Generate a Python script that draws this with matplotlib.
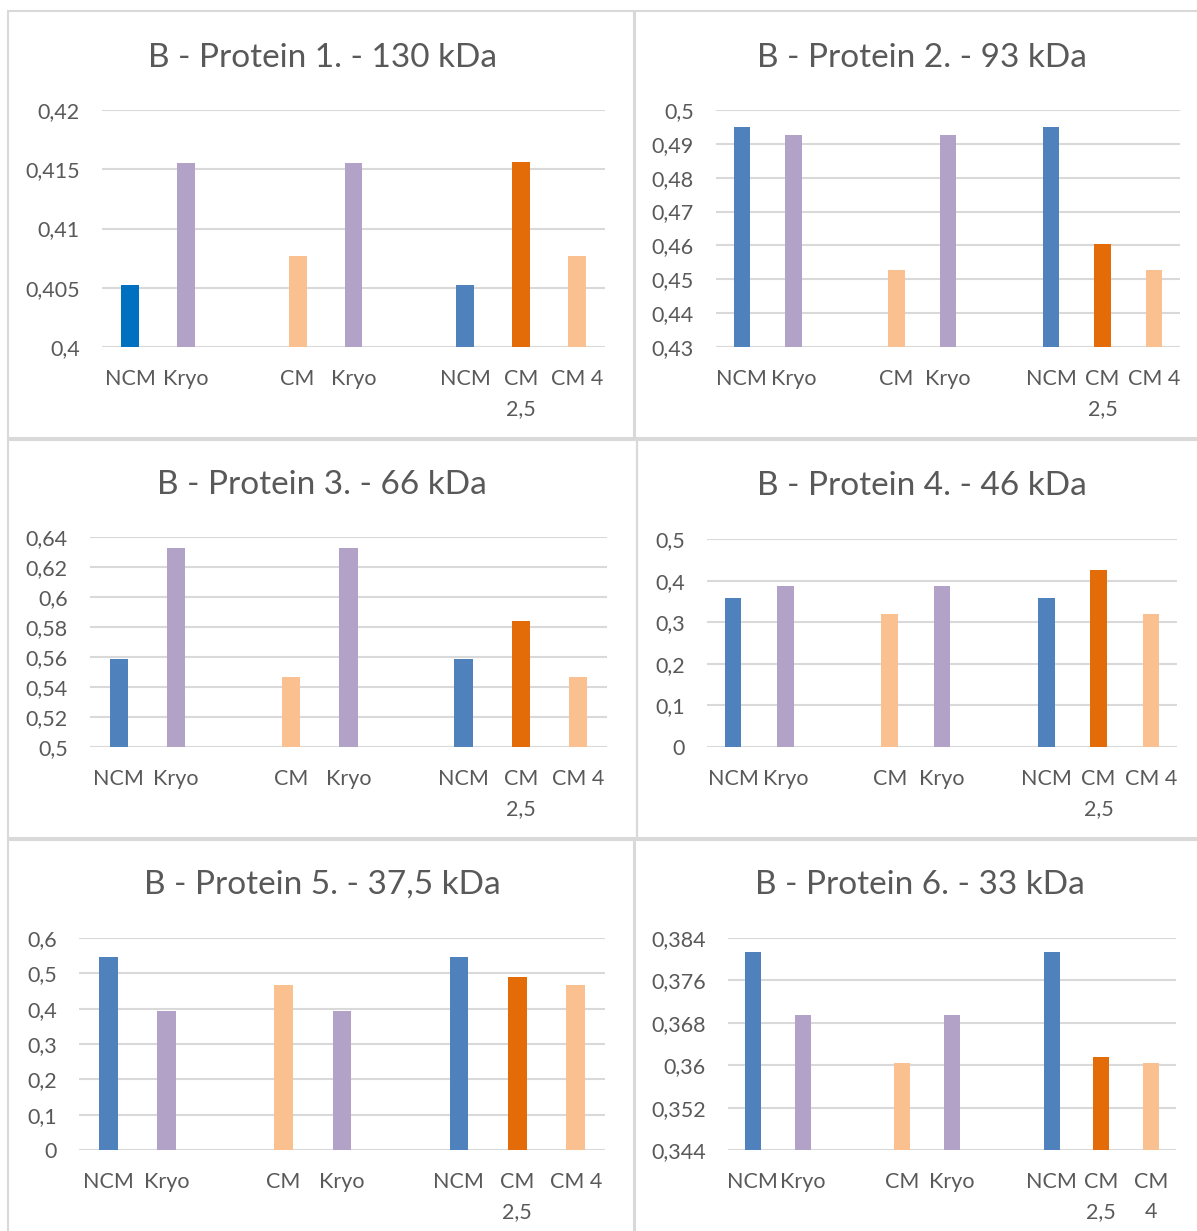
import matplotlib
matplotlib.use("Agg")
import matplotlib.pyplot as plt
import numpy as np
from matplotlib.patches import Rectangle
from matplotlib.ticker import FuncFormatter

W, H, DPI = 1197, 1231, 100
FONT = "Lato"
TXT = "#595959"
GRID = "#D9D9D9"

nan = np.nan
categories = ["NCM", "Kryo", "", "CM", "Kryo", "", "NCM", "CM\n2,5", "CM 4"]
categories_p6 = ["NCM", "Kryo", "", "CM", "Kryo", "", "NCM", "CM\n2,5", "CM\n4"]

titles = ["B - Protein 1. - 130 kDa", "B - Protein 2. - 93 kDa",
          "B - Protein 3. - 66 kDa", "B - Protein 4. - 46 kDa",
          "B - Protein 5. - 37,5 kDa", "B - Protein 6. - 33 kDa"]

protein1 = [0.4052, 0.4155, nan, 0.4077, 0.4155, nan, 0.4052, 0.4156, 0.4077]
protein2 = [0.4951, 0.4925, nan, 0.4527, 0.4925, nan, 0.4951, 0.4604, 0.4527]
protein3 = [0.5587, 0.6324, nan, 0.5469, 0.6324, nan, 0.5587, 0.5843, 0.5469]
protein4 = [0.359, 0.387, nan, 0.320, 0.387, nan, 0.359, 0.425, 0.320]
protein5 = [0.546, 0.392, nan, 0.466, 0.392, nan, 0.546, 0.489, 0.466]
protein6 = [0.3814, 0.3694, nan, 0.3605, 0.3694, nan, 0.3814, 0.3615, 0.3605]

y_ranges = [(0.4, 0.42, 0.005), (0.43, 0.5, 0.01), (0.5, 0.64, 0.02),
            (0.0, 0.5, 0.1), (0.0, 0.6, 0.1), (0.344, 0.384, 0.008)]

bar_colors = ["#4F81BD", "#B2A2C7", "#FFFFFF", "#FAC090", "#B2A2C7", "#FFFFFF",
              "#4F81BD", "#E36C09", "#FAC090"]
bar_colors_p1 = ["#0070C0"] + bar_colors[1:]

data = [protein1, protein2, protein3, protein4, protein5, protein6]
cats = [categories] * 5 + [categories_p6]
cols = [bar_colors_p1] + [bar_colors] * 5

# plot-area boxes in pixels: left, right, top, bottom
boxes = [(102, 605, 110, 347), (716, 1180, 110, 347),
         (90, 607, 537, 747), (707, 1177, 539, 747),
         (79, 605, 938, 1150), (728, 1176, 938, 1150)]
title_pos = [(322, 67), (922, 67), (322, 494), (922, 495), (322, 894), (920, 894)]
frames = [(8, 11, 635, 438), (634, 11, 1205, 438),
          (8, 440, 637, 838), (637, 440, 1205, 838),
          (8, 840, 635, 1240), (634, 840, 1205, 1240)]

fig = plt.figure(figsize=(W / DPI, H / DPI), dpi=DPI)
fig.patch.set_facecolor("white")

for (x0, y0, x1, y1) in frames:
    fig.add_artist(Rectangle((x0 / W, 1 - y1 / H), (x1 - x0) / W, (y1 - y0) / H,
                             transform=fig.transFigure, fill=False,
                             ec=GRID, lw=1.5))

fmt = FuncFormatter(lambda v, _: f"{round(v, 6):g}".replace(".", ","))

for i in range(6):
    l, r, t, b = boxes[i]
    ax = fig.add_axes([l / W, 1 - b / H, (r - l) / W, (b - t) / H])
    x = np.arange(len(cats[i]))
    vals = np.array(data[i], dtype=float)
    ax.bar(x, vals, width=0.32, color=cols[i], zorder=3)
    lo, hi, st = y_ranges[i]
    ax.set_ylim(lo, hi)
    ax.set_yticks(np.round(np.arange(lo, hi + st / 2, st), 6))
    ax.yaxis.set_major_formatter(fmt)
    ax.set_xlim(-0.5, len(cats[i]) - 0.5)
    ax.set_xticks(x)
    ax.set_xticklabels(cats[i], linespacing=1.6)
    ax.grid(axis="y", color=GRID, lw=1.5, zorder=0)
    ax.set_axisbelow(True)
    for s in ax.spines.values():
        s.set_visible(False)
    ax.tick_params(axis="both", length=0, labelsize=15.5, labelcolor=TXT)
    ax.tick_params(axis="y", pad=16)
    ax.tick_params(axis="x", pad=16)
    for lab in ax.get_xticklabels() + ax.get_yticklabels():
        lab.set_fontfamily(FONT)
    cx, by = title_pos[i]
    fig.text(cx / W, 1 - by / H, titles[i], ha="center", va="baseline",
             fontsize=24, color=TXT, fontfamily=FONT)

fig.savefig("out.png", dpi=DPI, facecolor="white")
